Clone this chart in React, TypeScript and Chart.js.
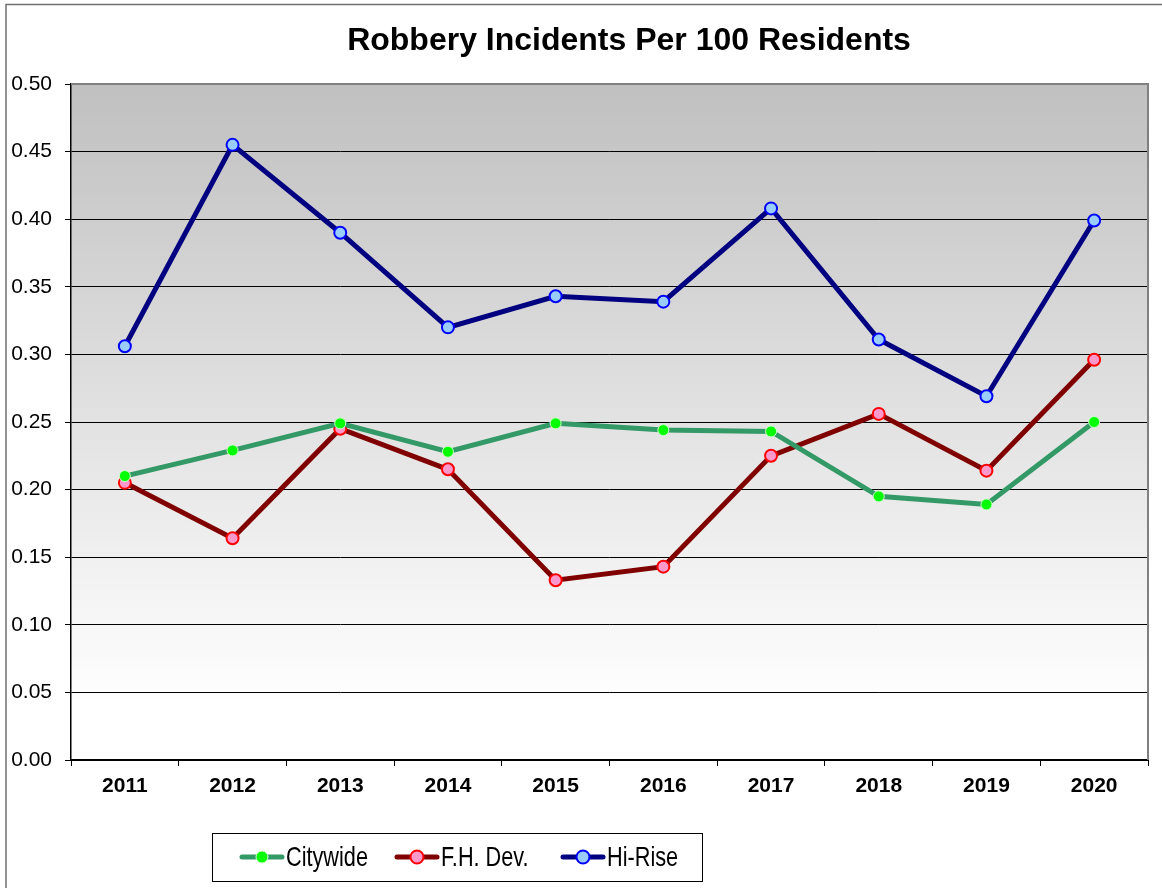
import React, { useEffect, useRef } from "react";
import { Chart, registerables } from "chart.js";

Chart.register(...registerables);

const years = ["2011", "2012", "2013", "2014", "2015", "2016", "2017", "2018", "2019", "2020"];
const citywide = [0.210, 0.229, 0.249, 0.228, 0.249, 0.244, 0.243, 0.195, 0.189, 0.250];
const fhDev = [0.205, 0.164, 0.245, 0.215, 0.133, 0.143, 0.225, 0.256, 0.214, 0.296];
const hiRise = [0.306, 0.455, 0.390, 0.320, 0.343, 0.339, 0.408, 0.311, 0.269, 0.399];
const seriesNames = ["Citywide", "F.H. Dev.", "Hi-Rise"];
const chartTitle = "Robbery Incidents Per 100 Residents";

const FONT = "'Liberation Sans', Arial, sans-serif";

const decorPlugin = {
  id: "decor",
  beforeDraw(chart: any) {
    const { ctx, chartArea } = chart;
    const { left, top, right, bottom } = chartArea;
    ctx.save();
    const g = ctx.createLinearGradient(0, top, 0, bottom);
    g.addColorStop(0, "#c0c0c0");
    g.addColorStop(0.92, "#ffffff");
    g.addColorStop(1, "#ffffff");
    ctx.fillStyle = g;
    ctx.fillRect(left, top, right - left, bottom - top);
    // outer frame
    ctx.strokeStyle = "#707070";
    ctx.lineWidth = 1.5;
    ctx.strokeRect(6, 4.5, 1200, 950);
    ctx.restore();
  },
  afterDatasetsDraw(chart: any) {
    const { ctx, chartArea } = chart;
    const { left, top, right, bottom } = chartArea;
    ctx.save();
    ctx.strokeStyle = "#808080";
    ctx.lineWidth = 2;
    ctx.beginPath();
    ctx.moveTo(left, top);
    ctx.lineTo(right, top);
    ctx.lineTo(right, bottom);
    ctx.stroke();
    ctx.restore();
  },
  afterDraw(chart: any) {
    const { ctx } = chart;
    ctx.save();
    // title
    ctx.fillStyle = "#000";
    ctx.font = `bold 32px ${FONT}`;
    ctx.textAlign = "center";
    ctx.textBaseline = "middle";
    ctx.fillText(chartTitle, 629, 41);

    // legend
    ctx.strokeStyle = "#000";
    ctx.lineWidth = 1;
    ctx.strokeRect(212.5, 833.5, 490, 48);
    const xs = [242, 397, 563];
    const ly = 857;
    chart.data.datasets.forEach((ds: any, i: number) => {
      const x0 = xs[i];
      ctx.strokeStyle = ds.borderColor;
      ctx.lineWidth = 5;
      ctx.lineCap = "round";
      ctx.beginPath();
      ctx.moveTo(x0, ly);
      ctx.lineTo(x0 + 40, ly);
      ctx.stroke();
      ctx.beginPath();
      ctx.arc(x0 + 20, ly, ds.pointRadius + 0.5, 0, Math.PI * 2);
      ctx.fillStyle = ds.pointBackgroundColor;
      ctx.fill();
      ctx.lineWidth = ds.pointBorderWidth;
      ctx.strokeStyle = ds.pointBorderColor;
      ctx.stroke();
      ctx.save();
      ctx.translate(x0 + 44, ly);
      ctx.scale(0.775, 1);
      ctx.fillStyle = "#000";
      ctx.font = `28px ${FONT}`;
      ctx.textAlign = "left";
      ctx.textBaseline = "middle";
      ctx.fillText(ds.label, 0, 1);
      ctx.restore();
    });
    ctx.restore();
  },
};

export default function App() {
  const ref = useRef<HTMLCanvasElement | null>(null);
  useEffect(() => {
    if (!ref.current) return;
    const chart = new Chart(ref.current, {
      type: "line",
      data: {
        labels: years,
        datasets: [
          {
            label: seriesNames[0],
            data: citywide,
            borderColor: "#339966",
            borderWidth: 5,
            pointRadius: 5.5,
            pointBackgroundColor: "#00ff00",
            pointBorderColor: "#ccffcc",
            pointBorderWidth: 1,
            tension: 0,
          },
          {
            label: seriesNames[1],
            data: fhDev,
            borderColor: "#800000",
            borderWidth: 5,
            pointRadius: 6,
            pointBackgroundColor: "#ff99cc",
            pointBorderColor: "#ff0000",
            pointBorderWidth: 2,
            tension: 0,
          },
          {
            label: seriesNames[2],
            data: hiRise,
            borderColor: "#000080",
            borderWidth: 5,
            pointRadius: 6,
            pointBackgroundColor: "#99ccff",
            pointBorderColor: "#0000ff",
            pointBorderWidth: 2,
            tension: 0,
          },
        ],
      },
      options: {
        responsive: false,
        animation: false,
        layout: { padding: { top: 84, right: 14, left: 0, bottom: 0 } },
        plugins: {
          legend: { display: false },
          title: { display: false },
          tooltip: { enabled: false },
        },
        scales: {
          x: {
            type: "category",
            offset: true,
            grid: {
              offset: true,
              drawOnChartArea: false,
              color: "#000",
              tickLength: 6,
              tickWidth: 1,
            },
            border: { display: true, color: "#000", width: 2 },
            ticks: {
              color: "#000",
              font: { family: FONT, size: 21, weight: "bold" },
              padding: 8,
              maxRotation: 0,
            },
            afterFit(scale: any) {
              scale.height = 128;
            },
          },
          y: {
            min: 0,
            max: 0.5,
            grid: { color: "#000", lineWidth: 1, tickLength: 6 },
            border: { display: true, color: "#000", width: 1.5 },
            ticks: {
              stepSize: 0.05,
              color: "#000",
              font: { family: FONT, size: 21 },
              padding: 13,
              callback: (v: any) => Number(v).toFixed(2),
            },
            afterFit(scale: any) {
              scale.width = 71;
            },
          },
        },
      },
      plugins: [decorPlugin],
    });
    return () => chart.destroy();
  }, []);
  return (
    <div style={{ position: "fixed", left: 0, top: 0, width: 1162, height: 888, background: "#fff" }}>
      <canvas ref={ref} width={1162} height={888} style={{ display: "block" }} />
    </div>
  );
}
